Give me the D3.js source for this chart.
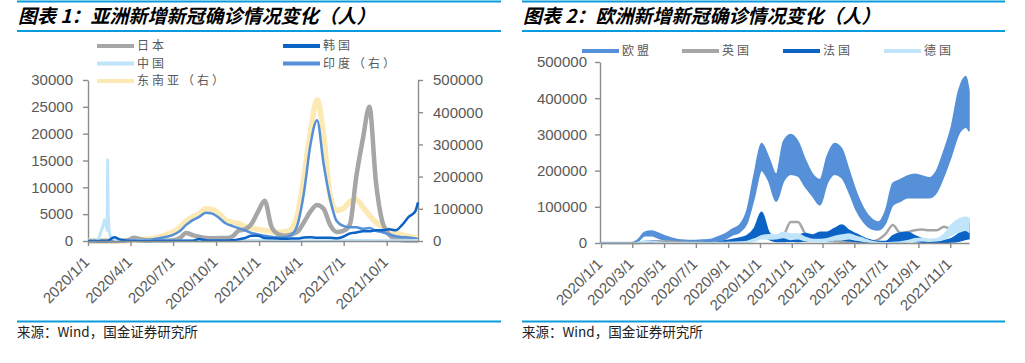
<!DOCTYPE html>
<html lang="zh">
<head>
<meta charset="utf-8">
<title>亚洲 / 欧洲新增新冠确诊情况变化</title>
<style>
  body { margin: 0; background: #fff; }
  svg text { font-family: "Liberation Sans", Arial, sans-serif; }
  svg text.cjk { font-family: "Noto Sans CJK SC", sans-serif; }
  .tick text { fill: #595959; font-size: 15px; }
</style>
</head>
<body>
<svg id="chart" width="1025" height="363"></svg>
<script src="https://cdn.jsdelivr.net/npm/d3@7/dist/d3.min.js"></script>
<script>
// sample dates: every 14 days from 2020/1/1, last one 2021/12/7
var startDate = new Date(2020, 0, 1);
var sampleDays = d3.range(0, 701, 14).concat([706]);
var dates = sampleDays.map(function(d) { return d3.timeDay.offset(startDate, d); });

// ---- chart 1: Asia (left axis)
var japan = [0, 0, 5, 10, 20, 50, 100, 600, 350, 80, 40, 40, 60, 150, 500, 1500, 1100, 800, 550, 500,
  550, 550, 800, 1900, 2200, 3200, 5500, 7500, 2800, 1300, 1000, 1200, 1700, 3500, 5500, 6700, 6000, 3000, 1700, 1900,
  3000, 12000, 19000, 25000, 11000, 3500, 1200, 400, 150, 100, 100, 150];
var korea = [0, 0, 0, 20, 700, 250, 100, 50, 10, 10, 30, 40, 50, 50, 40, 40, 60, 350, 150, 100,
  80, 90, 120, 300, 550, 1000, 1000, 550, 500, 450, 400, 450, 450, 650, 700, 600, 600, 600, 500, 800,
  1400, 1600, 1800, 1800, 2000, 2000, 2200, 2000, 3000, 4500, 5500, 7200];
// China has its own dates (the Feb 2020 spike is narrow)
var china = [["2020-01-01", 0], ["2020-01-18", 0], ["2020-01-24", 500], ["2020-01-29", 1800], ["2020-02-02", 2800],
  ["2020-02-05", 3900], ["2020-02-08", 3000], ["2020-02-10", 2500], ["2020-02-11", 2000], ["2020-02-12", 15100],
  ["2020-02-13", 5000], ["2020-02-15", 2100], ["2020-02-19", 400], ["2020-02-24", 400], ["2020-03-05", 140],
  ["2020-03-20", 40], ["2020-04-10", 50], ["2020-05-01", 10], ["2020-07-01", 10], ["2020-08-01", 60],
  ["2020-10-01", 20], ["2021-01-10", 100], ["2021-03-01", 20], ["2021-08-01", 100], ["2021-11-01", 60], ["2021-12-07", 80]];
// right axis
var india = [0, 0, 0, 0, 0, 10, 100, 600, 1500, 3500, 5500, 9000, 13000, 19000, 30000, 50000, 65000, 75000, 88000, 85000,
  72000, 55000, 47000, 40000, 33000, 25000, 20000, 16000, 13000, 11000, 12000, 18000, 50000, 150000, 300000, 375000, 240000, 130000, 62000, 47000,
  43000, 43000, 38000, 40000, 32000, 27000, 20000, 15000, 12000, 11000, 8000, 7000];
var seAsia = [0, 0, 0, 0, 0, 100, 800, 2500, 4000, 6500, 9000, 13000, 20000, 28000, 42000, 62000, 75000, 85000, 100000, 98000,
  85000, 66000, 58000, 54000, 45000, 40000, 36000, 33000, 30000, 27000, 28000, 36000, 80000, 200000, 340000, 438000, 330000, 140000, 95000, 100000,
  122000, 128000, 105000, 80000, 58000, 45000, 34000, 26000, 19000, 14000, 10000, 9000];

// ---- chart 2: Europe (weekly swings kept as high / low)
var euHigh = [0, 0, 0, 0, 300, 8000, 30000, 33000, 26000, 18000, 12000, 8000, 7000, 7000, 8000, 10000, 17000, 25000, 38000, 50000,
  90000, 190000, 275000, 235000, 190000, 280000, 300000, 280000, 230000, 190000, 175000, 240000, 275000, 260000, 200000, 140000, 95000, 68000, 58000, 90000,
  165000, 175000, 185000, 190000, 185000, 180000, 200000, 255000, 320000, 420000, 460000, 420000];
var euLow = [0, 0, 0, 0, 100, 4000, 20000, 20000, 12000, 7000, 5000, 3000, 3000, 3000, 3500, 5000, 7000, 11000, 22000, 30000,
  55000, 125000, 200000, 170000, 115000, 170000, 190000, 185000, 155000, 130000, 105000, 165000, 190000, 180000, 140000, 90000, 58000, 40000, 36000, 55000,
  105000, 115000, 125000, 125000, 125000, 125000, 140000, 185000, 240000, 300000, 320000, 310000];
var uk = [0, 0, 0, 0, 10, 200, 2500, 5000, 4500, 4000, 2500, 1500, 1000, 700, 600, 800, 1000, 1200, 3000, 6000,
  14000, 22000, 23000, 24000, 15000, 22000, 58000, 58000, 25000, 14000, 9000, 5500, 5000, 3000, 2500, 2500, 2500, 4000, 9000, 25000,
  50000, 28000, 30000, 35000, 37000, 35000, 35000, 45000, 38000, 40000, 45000, 50000];
var franceHigh = [0, 0, 0, 0, 10, 600, 4000, 5000, 2500, 1200, 600, 700, 600, 800, 1000, 1500, 3000, 6000, 10000, 14000,
  20000, 40000, 85000, 30000, 12000, 16000, 20000, 22000, 26000, 22000, 30000, 30000, 40000, 50000, 35000, 25000, 15000, 8000, 4000, 4000,
  20000, 28000, 30000, 20000, 12000, 8000, 6000, 7000, 12000, 25000, 45000, 55000];
var franceLow = [0, 0, 0, 0, 0, 200, 1500, 1000, 500, 200, 0, 0, 0, 0, 0, 200, 500, 1000, 2000, 5000,
  6000, 12000, 20000, 10000, 4000, 4000, 5000, 4000, 5000, 5000, 8000, 5000, 8000, 8000, 6000, 4000, 3000, 2000, 1000, 1000,
  4000, 5000, 6000, 4000, 2000, 1500, 1500, 1500, 2500, 5000, 10000, 12000];
var germanyHigh = [0, 0, 0, 0, 50, 1000, 5500, 5000, 2500, 1200, 700, 400, 600, 500, 600, 900, 1400, 1500, 1800, 2500,
  4500, 11000, 20000, 23000, 22000, 30000, 25000, 25000, 15000, 10000, 10000, 12000, 18000, 22000, 25000, 18000, 12000, 5000, 1500, 900,
  1500, 3000, 6000, 12000, 13000, 10000, 12000, 24000, 50000, 65000, 72000, 68000];
var germanyLow = [0, 0, 0, 0, 0, 300, 2000, 2500, 1000, 500, 300, 200, 200, 200, 300, 400, 600, 700, 800, 1200,
  2000, 5000, 12000, 11000, 12000, 15000, 10000, 12000, 6000, 4000, 4000, 5000, 8000, 9000, 12000, 8000, 5000, 2000, 500, 300,
  600, 1500, 3000, 5000, 6000, 5000, 6000, 10000, 22000, 30000, 35000, 30000];

// ticks
var leftTicks1 = [0, 5000, 10000, 15000, 20000, 25000, 30000];
var rightTicks1 = [0, 100000, 200000, 300000, 400000, 500000];
var xTicks1 = ["2020/1/1", "2020/4/1", "2020/7/1", "2020/10/1", "2021/1/1", "2021/4/1", "2021/7/1", "2021/10/1"];
var yTicks2 = [0, 100000, 200000, 300000, 400000, 500000];
var xTicks2 = ["2020/1/1", "2020/3/1", "2020/5/1", "2020/7/1", "2020/9/1", "2020/11/1",
  "2021/1/1", "2021/3/1", "2021/5/1", "2021/7/1", "2021/9/1", "2021/11/1"];

var C = {
  gray: "#a6a6a6", dark: "#0b63c6", light: "#c0e4fa", mid: "#5590d8", yellow: "#fde9b4",
  rule: "#0a9bdc", axis: "#8c8c8c"
};

var svg = d3.select("#chart");
var parseTick = d3.timeParse("%Y/%m/%d");
var parseDay = d3.timeParse("%Y-%m-%d");
var fmtTick = function(d) { return d.getFullYear() + "/" + (d.getMonth() + 1) + "/" + d.getDate(); };
var endDate = dates[dates.length - 1];

function frame(x0, x1, title) {
  [1.5, 31, 321.5].forEach(function(y) {
    svg.append("line").attr("x1", x0).attr("x2", x1).attr("y1", y).attr("y2", y)
      .attr("stroke", C.rule).attr("stroke-width", 2.2);
  });
  svg.append("text").attr("class", "cjk").attr("x", x0 + 1).attr("y", 23)
    .attr("font-size", 19).attr("font-weight", 700).attr("font-style", "italic")
    .text(title);
  svg.append("text").attr("class", "cjk").attr("x", x0).attr("y", 337)
    .attr("font-size", 13.5).attr("fill", "#222")
    .text("来源：Wind，国金证券研究所");
}

function styleAxis(g) {
  g.attr("color", C.axis);
  g.selectAll(".domain, .tick line").attr("stroke-width", 1.4);
}

function xAxis(x, y0, labels) {
  var g = svg.append("g").attr("transform", "translate(0," + y0 + ")")
    .call(d3.axisBottom(x).tickValues(labels.map(parseTick)).tickFormat(fmtTick)
      .tickSize(5).tickSizeOuter(0));
  styleAxis(g);
  g.selectAll(".tick text")
    .attr("y", 0).attr("dy", 0)
    .attr("text-anchor", "end")
    .attr("transform", "translate(2,22) rotate(-45)");
}

function lineOf(x, y, values, color, width) {
  var line = d3.line()
    .x(function(d, i) { return x(dates[i]); })
    .y(function(d) { return y(d); })
    .curve(d3.curveMonotoneX);
  svg.append("path").datum(values).attr("d", line)
    .attr("fill", "none").attr("stroke", color).attr("stroke-width", width)
    .attr("stroke-linejoin", "round");
}

function bandOf(x, y, hi, lo, color) {
  var area = d3.area()
    .x(function(d, i) { return x(dates[i]); })
    .y0(function(d, i) { return y(lo[i]); })
    .y1(function(d) { return y(d); })
    .curve(d3.curveMonotoneX);
  svg.append("path").datum(hi).attr("d", area)
    .attr("fill", color).attr("stroke", color).attr("stroke-width", 1.5)
    .attr("stroke-linejoin", "round");
}

function legendItem(x, y, color, label) {
  svg.append("line").attr("x1", x).attr("x2", x + 37).attr("y1", y).attr("y2", y)
    .attr("stroke", color).attr("stroke-width", 4);
  svg.append("text").attr("class", "cjk").attr("x", x + 40).attr("y", y).attr("dy", "0.36em")
    .attr("font-size", 12).attr("letter-spacing", 3).attr("fill", "#595959")
    .text(label);
}

// ================= chart 1 =================
frame(17, 501, "图表 1：亚洲新增新冠确诊情况变化（人）");

var x1 = d3.scaleTime().domain([startDate, endDate]).range([88, 418]);
var yL = d3.scaleLinear().domain([0, 30000]).range([241, 80]);
var yR = d3.scaleLinear().domain([0, 500000]).range([241, 80]);

var gL = svg.append("g").attr("transform", "translate(88,0)")
  .call(d3.axisLeft(yL).tickValues(leftTicks1).tickFormat(d3.format("d"))
    .tickSize(5).tickPadding(10).tickSizeOuter(0));
styleAxis(gL);
var gR = svg.append("g").attr("transform", "translate(418,0)")
  .call(d3.axisRight(yR).tickValues(rightTicks1).tickFormat(d3.format("d"))
    .tickSize(5).tickPadding(10).tickSizeOuter(0));
styleAxis(gR);

lineOf(x1, yR, seAsia, C.yellow, 5.5);
lineOf(x1, yL, japan, C.gray, 4.5);
lineOf(x1, yR, india, C.mid, 2.5);
svg.append("path").datum(china)
  .attr("d", d3.line()
    .x(function(d) { return x1(parseDay(d[0])); })
    .y(function(d) { return yL(d[1]); }))
  .attr("fill", "none").attr("stroke", C.light).attr("stroke-width", 3)
  .attr("stroke-linejoin", "round");
lineOf(x1, yL, korea, C.dark, 2.5);

xAxis(x1, 241, xTicks1);

legendItem(97, 46, C.gray, "日本");
legendItem(97, 63.5, C.light, "中国");
legendItem(97, 81, C.yellow, "东南亚（右）");
legendItem(283, 46, C.dark, "韩国");
legendItem(283, 63.5, C.mid, "印度（右）");

// ================= chart 2 =================
frame(522, 1005, "图表 2：欧洲新增新冠确诊情况变化（人）");

var x2 = d3.scaleTime().domain([startDate, endDate]).range([601, 969]);
var y2 = d3.scaleLinear().domain([0, 500000]).range([243, 62]);

var g2 = svg.append("g").attr("transform", "translate(600,0)")
  .call(d3.axisLeft(y2).tickValues(yTicks2).tickFormat(d3.format("d"))
    .tickSize(5).tickPadding(8).tickSizeOuter(0));
styleAxis(g2);

bandOf(x2, y2, euHigh, euLow, C.mid);
lineOf(x2, y2, uk, C.gray, 2.5);
bandOf(x2, y2, franceHigh, franceLow, C.dark);
bandOf(x2, y2, germanyHigh, germanyLow, C.light);

xAxis(x2, 243, xTicks2);

legendItem(582, 51, C.mid, "欧盟");
legendItem(682, 51, C.gray, "英国");
legendItem(783, 51, C.dark, "法国");
legendItem(884, 51, C.light, "德国");
</script>
</body>
</html>
